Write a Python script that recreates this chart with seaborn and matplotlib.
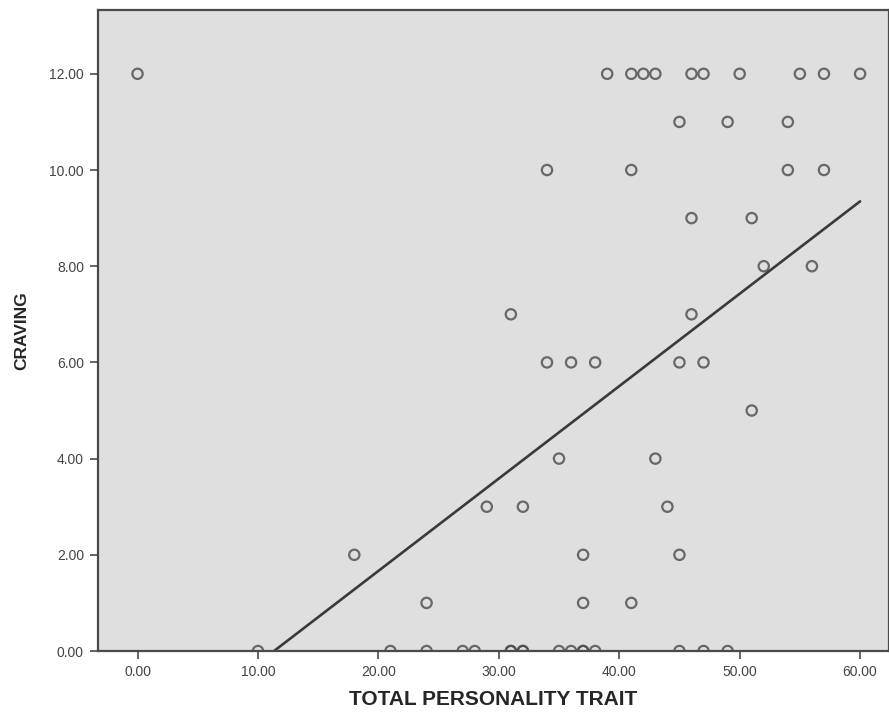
"""Scatter of craving against total personality trait score, with a linear fit line."""

import matplotlib

matplotlib.use("Agg")
import matplotlib.pyplot as plt
import numpy as np
import seaborn as sns

# Points, grouped by craving level
# (repeated values are the overprinted, darker circles)
x_12 = [0, 39, 41, 42, 43, 46, 47, 50, 55, 57, 60]
x_11 = [45, 49, 54]
x_10 = [34, 41, 54, 57]
x_9 = [46, 51]
x_8 = [52, 56]
x_7 = [31, 46]
x_6 = [34, 36, 38, 45, 47]
x_5 = [51]
x_4 = [35, 43]
x_3 = [29, 32, 44]
x_2 = [18, 37, 45]
x_1 = [24, 37, 41]
x_0 = [10, 21, 24, 27, 28, 31, 31, 32, 32, 35, 36, 37, 37, 38, 45, 47, 49]

groups = {12: x_12, 11: x_11, 10: x_10, 9: x_9, 8: x_8, 7: x_7, 6: x_6,
          5: x_5, 4: x_4, 3: x_3, 2: x_2, 1: x_1, 0: x_0}

x_ticks = [0, 10, 20, 30, 40, 50, 60]
y_ticks = [0, 2, 4, 6, 8, 10, 12]

BG = "#dfdfdf"
INK = "#4a4a4a"


def collect_points():
    xs, ys = [], []
    for level, vals in groups.items():
        xs.extend(vals)
        ys.extend([level] * len(vals))
    return np.array(xs, dtype=float), np.array(ys, dtype=float)


def main() -> None:
    sns.set_theme(style="white")
    plt.rcParams["font.family"] = ["Liberation Sans", "DejaVu Sans"]

    xs, ys = collect_points()

    fig = plt.figure(figsize=(8.89, 7.18), dpi=100)
    ax = fig.add_axes([0.110, 0.0933, 0.89, 0.893])
    ax.set_facecolor(BG)

    sns.regplot(
        x=xs, y=ys, ax=ax, ci=None, truncate=True,
        scatter_kws=dict(s=55, facecolors="none", edgecolors=INK, linewidths=1.6, zorder=3),
        line_kws=dict(color="#3a3a3a", linewidth=1.9, zorder=2),
    )

    ax.set_xlim(-3.3, 62.4)
    ax.set_ylim(0, 13.33)
    ax.set_xticks(x_ticks)
    ax.set_yticks(y_ticks)
    ax.set_xticklabels([f"{v:.2f}" for v in x_ticks], fontsize=10, color="#444444")
    ax.set_yticklabels([f"{v:.2f}" for v in y_ticks], fontsize=10, color="#444444")
    ax.tick_params(axis="both", direction="out", length=6, width=1.2, color=INK, pad=4,
                   bottom=True, left=True)

    for side in ["left", "bottom", "top", "right"]:
        ax.spines[side].set_color(INK)
        ax.spines[side].set_linewidth(1.6)

    ax.set_xlabel("TOTAL PERSONALITY TRAIT", fontsize=15, fontweight="bold", labelpad=8)
    ax.set_ylabel("CRAVING", fontsize=12.5, fontweight="bold", labelpad=14)

    fig.savefig("out.png", dpi=100)
    plt.close(fig)


if __name__ == "__main__":
    main()
